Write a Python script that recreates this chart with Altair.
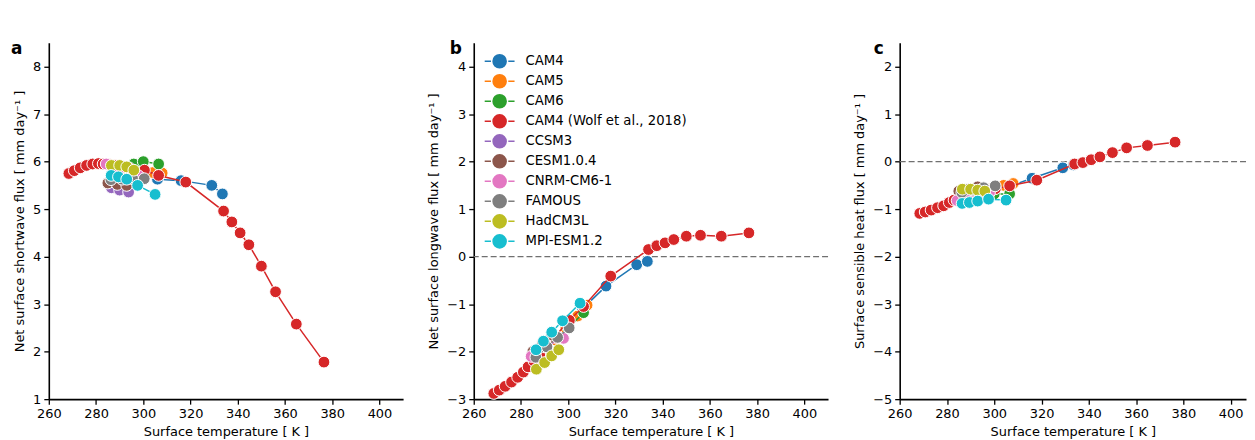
import altair as alt
import pandas as pd

# ---------------- data ----------------
models = ["CAM4", "CAM5", "CAM6", "CAM4 (Wolf et al., 2018)", "CCSM3",
          "CESM1.0.4", "CNRM-CM6-1", "FAMOUS", "HadCM3L", "MPI-ESM1.2"]
colors = ["#1f77b4", "#ff7f0e", "#2ca02c", "#d62728", "#9467bd",
          "#8c564b", "#e377c2", "#7f7f7f", "#bcbd22", "#17becf"]

# surface temperature [K]
T_cam4 = [306.0, 316.0, 329.0, 333.5]
T_cam5 = [294.0, 299.0, 304.0, 308.0]
T_cam6 = [291.0, 296.0, 300.0, 306.5]
T_wolf = [268.5, 270.8, 273.3, 276.0, 278.6, 281.0, 283.0, 285.5, 288.0, 291.0,
          294.0, 300.5, 306.5, 318.0, 334.0, 337.5, 341.0, 344.7, 350.0, 356.0,
          364.8, 376.5]
T_ccsm3 = [286.5, 290.0, 293.8]
T_cesm = [285.0, 289.0, 293.0]
T_cnrm = [284.3, 290.0, 298.0]
T_famous = [286.3, 291.0, 295.5, 300.4]
T_had = [286.5, 290.0, 293.0, 296.0]
T_mpi = [286.4, 289.5, 293.0, 297.6, 305.0]

# net surface shortwave flux [mm/day]
SW_cam4 = [5.63, 5.60, 5.50, 5.32]
SW_cam5 = [5.80, 5.78, 5.77, 5.76]
SW_cam6 = [5.90, 5.95, 6.00, 5.95]
SW_wolf = [5.75, 5.81, 5.87, 5.92, 5.95, 5.96, 5.95, 5.94, 5.92, 5.90,
           5.87, 5.82, 5.71, 5.57, 4.96, 4.73, 4.50, 4.25, 3.80, 3.26,
           2.58, 1.78]
SW_ccsm3 = [5.45, 5.40, 5.36]
SW_cesm = [5.55, 5.52, 5.50]
SW_cnrm = [5.95, 5.85, 5.70]
SW_famous = [5.62, 5.63, 5.64, 5.64]
SW_had = [5.92, 5.92, 5.89, 5.82]
SW_mpi = [5.71, 5.68, 5.63, 5.50, 5.31]

# net surface longwave flux [mm/day]
LW_cam4 = [-1.10, -0.62, -0.17, -0.10]
LW_cam5 = [-1.75, -1.50, -1.25, -1.02]
LW_cam6 = [-1.95, -1.70, -1.50, -1.18]
LW_wolf = [-2.88, -2.81, -2.73, -2.64, -2.54, -2.43, -2.32, -2.20, -2.05, -1.88,
           -1.70, -1.34, -1.05, -0.41, 0.15, 0.23, 0.29, 0.36, 0.43, 0.45,
           0.43, 0.50]
LW_ccsm3 = [-1.98, -1.80, -1.65]
LW_cesm = [-2.00, -1.82, -1.65]
LW_cnrm = [-2.10, -1.90, -1.72]
LW_famous = [-2.12, -1.90, -1.70, -1.50]
LW_had = [-2.37, -2.23, -2.09, -1.96]
LW_mpi = [-1.96, -1.78, -1.59, -1.35, -0.98]

# surface sensible heat flux [mm/day]
SH_cam4 = [-0.53, -0.35, -0.13, -0.07]
SH_cam5 = [-0.62, -0.57, -0.50, -0.46]
SH_cam6 = [-0.72, -0.70, -0.68, -0.68]
SH_wolf = [-1.09, -1.06, -1.02, -0.97, -0.93, -0.86, -0.81, -0.77, -0.72, -0.68,
           -0.64, -0.57, -0.51, -0.39, -0.05, -0.02, 0.04, 0.10, 0.19, 0.29,
           0.34, 0.41]
SH_ccsm3 = [-0.78, -0.74, -0.70]
SH_cesm = [-0.62, -0.58, -0.53]
SH_cnrm = [-0.82, -0.75, -0.65]
SH_famous = [-0.65, -0.60, -0.55, -0.51]
SH_had = [-0.58, -0.58, -0.60, -0.62]
SH_mpi = [-0.88, -0.86, -0.83, -0.79, -0.81]

series = [
    (T_cam4, SW_cam4, LW_cam4, SH_cam4),
    (T_cam5, SW_cam5, LW_cam5, SH_cam5),
    (T_cam6, SW_cam6, LW_cam6, SH_cam6),
    (T_wolf, SW_wolf, LW_wolf, SH_wolf),
    (T_ccsm3, SW_ccsm3, LW_ccsm3, SH_ccsm3),
    (T_cesm, SW_cesm, LW_cesm, SH_cesm),
    (T_cnrm, SW_cnrm, LW_cnrm, SH_cnrm),
    (T_famous, SW_famous, LW_famous, SH_famous),
    (T_had, SW_had, LW_had, SH_had),
    (T_mpi, SW_mpi, LW_mpi, SH_mpi),
]

rows = []
for m, (T, sw, lw, sh) in zip(models, series):
    for t, a, b, c in zip(T, sw, lw, sh):
        rows.append({"model": m, "T": t, "sw": a, "lw": b, "sh": c})
df = pd.DataFrame(rows)

FONT = "DejaVu Sans"
FS = 13
H = 358
PX_PER_K = 356 / 150.0

legend_path = ("M-1,0L-0.58,0M0.58,0L1,0"
               "M0.44,0A0.44,0.44,0,1,1,-0.44,0A0.44,0.44,0,1,1,0.44,0Z")
legend = alt.Legend(
    title=None, orient="none", legendX=437, legendY=8.5,
    symbolType=legend_path, symbolSize=900, symbolStrokeWidth=1.5,
    symbolOpacity=1,
    labelFont=FONT, labelFontSize=13.3, labelColor="black", labelOffset=10,
    labelLimit=400, clipHeight=20, rowPadding=0.1,
)


def axis(values, title):
    return alt.Axis(values=values, title=title, grid=False,
                    domainColor="black", domainWidth=1.6,
                    tickColor="black", tickWidth=1.3, tickSize=5,
                    labelFont=FONT, labelFontSize=FS, labelColor="black",
                    labelPadding=3, titleFont=FONT, titleFontSize=FS,
                    titleFontWeight="normal", titleColor="black",
                    titlePadding=6, labelFlush=False)


xticks = [260, 280, 300, 320, 340, 360, 380, 400]
zero_line = pd.DataFrame({"y0": [0.0]})


def panel(field, ytitle, ydomain, yticks, letter, letter_dx, dashed,
          with_legend, xmax=410.0):
    width = round((xmax - 260) * PX_PER_K)
    x = alt.X("T:Q", scale=alt.Scale(domain=[260, xmax], nice=False, zero=False),
              axis=axis(xticks, "Surface temperature [ K ]"))
    y = alt.Y(f"{field}:Q", scale=alt.Scale(domain=ydomain, nice=False, zero=False),
              axis=axis(yticks, ytitle))
    layers = []
    if dashed:
        layers.append(alt.Chart(zero_line).mark_rule(color="#707070", strokeWidth=1.4,
                                                     strokeDash=[6, 3])
                      .encode(y=alt.Y("y0:Q")))
    for m, c in zip(models, colors):
        base = alt.Chart(df).transform_filter(alt.datum.model == m)
        layers.append(base.mark_line(color=c, strokeWidth=1.5).encode(x=x, y=y))
        layers.append(base.mark_point(filled=True, size=140, stroke="white",
                                      strokeWidth=1, opacity=1, color=c)
                      .encode(x=x, y=y))
    if with_legend:
        layers.append(
            alt.Chart(df).transform_filter(alt.datum.T < 0)
            .mark_point(filled=True, opacity=1)
            .encode(x=x, y=y,
                    fill=alt.Fill("model:N", scale=alt.Scale(domain=models, range=colors),
                                  legend=legend),
                    stroke=alt.Stroke("model:N", scale=alt.Scale(domain=models, range=colors),
                                      legend=legend)))
    layers.append(alt.Chart(pd.DataFrame({"t": [letter]}))
                  .mark_text(font=FONT, fontSize=17, fontWeight="bold",
                             align="left", baseline="alphabetic", color="black")
                  .encode(text="t:N", x=alt.value(letter_dx), y=alt.value(11)))
    return alt.layer(*layers).properties(width=width, height=H)


pa = panel("sw", "Net surface shortwave flux [ mm day⁻¹ ]", [1, 8.5],
           [1, 2, 3, 4, 5, 6, 7, 8], "a", -38, False, False)
pb = panel("lw", "Net surface longwave flux [ mm day⁻¹ ]", [-3, 4.5],
           [-3, -2, -1, 0, 1, 2, 3, 4], "b", -24, True, True)
pc = panel("sh", "Surface sensible heat flux [ mm day⁻¹ ]", [-5, 2.5],
           [-5, -4, -3, -2, -1, 0, 1, 2], "c", -26, True, False, xmax=406.5)

chart = (alt.hconcat(pa, pb, pc, spacing=24)
         .properties(padding={"left": 3, "top": 31, "right": 0, "bottom": 0})
         .configure_view(stroke=None))

chart.save("out.html", embed_options={"renderer": "svg", "actions": False})
